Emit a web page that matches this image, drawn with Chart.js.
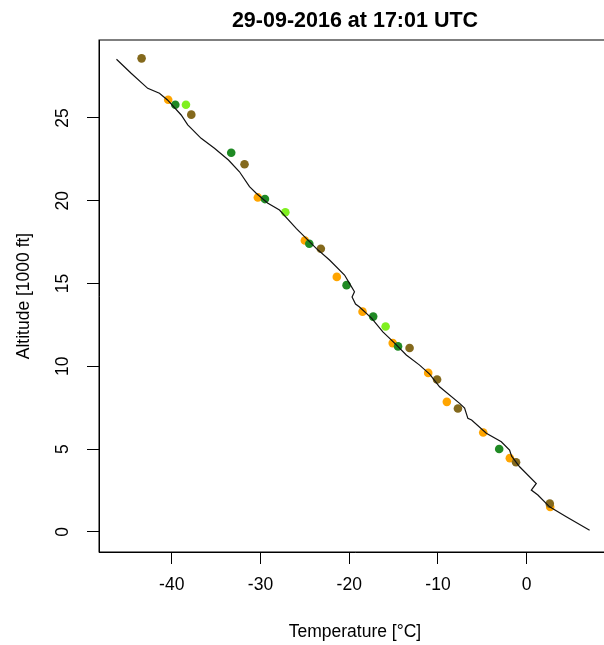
<!DOCTYPE html>
<html><head><meta charset="utf-8">
<script src="https://cdn.jsdelivr.net/npm/chart.js@4.4.0/dist/chart.umd.min.js"></script>
<style>html,body{margin:0;padding:0;background:#fff;overflow:hidden}
#wrap{width:604px;height:645px;overflow:hidden;position:relative}</style>
</head><body>
<div id="wrap"><canvas id="c" width="611" height="645" style="display:block;width:611px;height:645px"></canvas></div>
<script>
const chartTitle = '29-09-2016 at 17:01 UTC';
const xLabel = 'Temperature [°C]';
const yLabel = 'Altitude [1000 ft]';
const xTicks = [-40, -30, -20, -10, 0];
const yTicks = [0, 5, 10, 15, 20, 25];

// sounding profile (line)
const profileTemp = [-46.23,-44.58,-42.71,-41.39,-40.48,-38.94,-38.20,-36.69,-35.19,-33.61,-32.37,-31.24,-30.48,-29.21,-27.86,-25.98,-23.72,-22.22,-20.53,-19.97,-19.41,-19.68,-19.29,-18.84,-17.49,-16.21,-14.89,-13.57,-12.07,-10.94,-9.82,-7.56,-7.0,-6.63,-6.21,-4.55,-2.86,-1.93,-1.70,-0.80,1.08,0.52,1.26,2.58,4.46,7.09];
const profileAlt  = [28.55,27.70,26.79,26.49,26.09,25.18,24.58,23.77,23.17,22.46,21.75,20.85,20.45,19.86,19.44,18.33,17.12,16.42,15.51,15.01,14.50,14.18,13.76,13.58,12.91,12.08,11.40,10.68,10.07,9.53,8.76,7.76,7.47,6.85,6.75,5.95,5.44,4.94,4.57,3.93,2.92,2.52,2.22,1.51,0.91,0.10];

// aircraft reports (points), by colour group
const orangeTemp = [-40.4,-30.3,-25.0,-21.4,-18.5,-15.1,-11.1,-9.0,-4.9,-1.9,2.65];
const orangeAlt  = [26.1,20.2,17.6,15.4,13.3,11.4,9.6,7.85,6.0,4.45,1.5];
const lightTemp  = [-38.4,-27.2,-15.9];
const lightAlt   = [25.8,19.3,12.4];
const darkTemp   = [-39.6,-33.3,-29.5,-24.5,-20.3,-17.3,-14.5,-3.1];
const darkAlt    = [25.8,22.9,20.1,17.4,14.9,13.0,11.2,5.0];
const brownTemp  = [-43.4,-37.8,-31.8,-23.2,-13.2,-10.1,-7.75,-1.2,2.6];
const brownAlt   = [28.6,25.2,22.2,17.1,11.1,9.2,7.45,4.2,1.7];

const pts = (xs, ys) => xs.map((x, i) => ({x: x, y: ys[i]}));
const FONT = 'Liberation Sans, Arial, Helvetica, sans-serif';

const boxPlugin = {
  id: 'box',
  afterDraw(chart) {
    const a = chart.chartArea, ctx = chart.ctx;
    ctx.save();
    ctx.strokeStyle = '#000';
    ctx.lineWidth = 1;
    ctx.strokeRect(a.left, a.top, a.right - a.left, a.bottom - a.top);
    ctx.restore();
  }
};

const pointDs = (label, data, color, order) => ({
  label, data, showLine: false, pointRadius: 4.3, pointHoverRadius: 4.3,
  pointBackgroundColor: color, pointBorderWidth: 0, borderColor: color, order
});

new Chart(document.getElementById('c'), {
  type: 'scatter',
  data: {
    datasets: [
      {label: 'profile', data: pts(profileTemp, profileAlt), showLine: true, pointRadius: 0,
       borderColor: '#111', borderWidth: 1.2, fill: false, tension: 0, order: 0},
      pointDs('brown', pts(brownTemp, brownAlt), '#84691C', 1),
      pointDs('dark green', pts(darkTemp, darkAlt), '#1F8A24', 2),
      pointDs('light green', pts(lightTemp, lightAlt), '#80F020', 3),
      pointDs('orange', pts(orangeTemp, orangeAlt), '#FFA500', 4)
    ]
  },
  options: {
    responsive: false, devicePixelRatio: 1, animation: false,
    layout: {autoPadding: false, padding: 0},
    plugins: {
      legend: {display: false}, tooltip: {enabled: false},
      title: {display: true, text: chartTitle, fullSize: false, color: '#000',
        font: {family: FONT, size: 21.5, weight: 'bold', lineHeight: 1.2},
        padding: {top: 8, bottom: 6.2}}
    },
    scales: {
      x: {
        type: 'linear', min: -48.2, max: 9.5,
        afterBuildTicks: s => { s.ticks = xTicks.map(v => ({value: v})); },
        afterFit: s => { s.height = 93; s.paddingRight = 0; s.paddingLeft = 0; },
        ticks: {color: '#000', font: {family: FONT, size: 17.5, lineHeight: 1.2}, padding: 10.5,
                maxRotation: 0, autoSkip: false},
        grid: {drawOnChartArea: false, drawTicks: true, tickLength: 12, color: '#000', lineWidth: 1},
        border: {display: true, color: '#000'},
        title: {display: true, text: xLabel, color: '#000', font: {family: FONT, size: 17.5, lineHeight: 1.2},
                padding: {top: 0, bottom: 2.5}}
      },
      y: {
        type: 'linear', min: -1.22, max: 29.71,
        afterBuildTicks: s => { s.ticks = yTicks.map(v => ({value: v})); },
        afterFit: s => { s.width = 99; s.paddingTop = 0; s.paddingBottom = 0; },
        ticks: {color: '#000', font: {family: FONT, size: 17.5, lineHeight: 1.2}, padding: 14.3,
                minRotation: 90, maxRotation: 90, crossAlign: 'center', autoSkip: false},
        grid: {drawOnChartArea: false, drawTicks: true, tickLength: 12, color: '#000', lineWidth: 1},
        border: {display: true, color: '#000'},
        title: {display: true, text: yLabel, color: '#000', font: {family: FONT, size: 17.5, lineHeight: 1.2},
                padding: {top: 13.5, bottom: 0}}
      }
    }
  },
  plugins: [boxPlugin]
});
</script>
</body></html>
